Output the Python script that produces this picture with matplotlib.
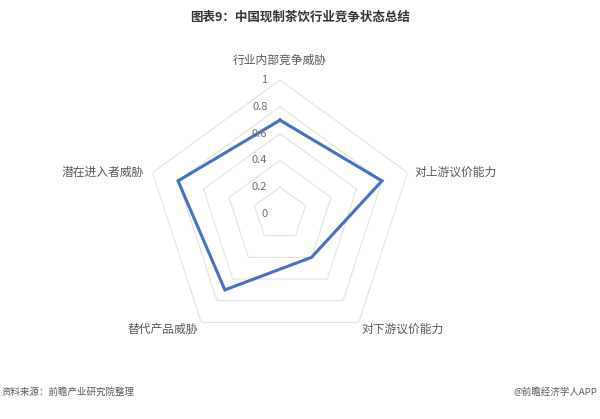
import numpy as np
import matplotlib.pyplot as plt

plt.rcParams['font.family'] = ['Noto Sans CJK SC', 'DejaVu Sans']

# data
categories = ['行业内部竞争威胁', '对上游议价能力', '对下游议价能力', '替代产品威胁', '潜在进入者威胁']
values = [0.7, 0.8, 0.4, 0.7, 0.8]
ring_levels = [0.2, 0.4, 0.6, 0.8, 1.0]
tick_labels = ['0', '0.2', '0.4', '0.6', '0.8', '1']
tick_values = [0, 0.2, 0.4, 0.6, 0.8, 1.0]

title = '图表9：中国现制茶饮行业竞争状态总结'
source = '资料来源：前瞻产业研究院整理'
credit = '@前瞻经济学人APP'

fig = plt.figure(figsize=(6, 4.19), dpi=100)
fig.patch.set_facecolor('white')

# polar axes centred at (280, 214) px, radius 134 px
cx, cy, r = 280 / 600, 1 - 214 / 419, 134
w, h = 2 * r / 600, 2 * r / 419
ax = fig.add_axes([cx - w / 2, cy - h / 2, w, h], projection='polar')
ax.set_theta_offset(np.pi / 2)
ax.set_theta_direction(-1)
ax.set_ylim(0, 1)
ax.grid(False)
ax.spines['polar'].set_visible(False)
ax.set_xticks([])
ax.set_yticks([])
ax.patch.set_alpha(0)

n = len(categories)
angles = np.linspace(0, 2 * np.pi, n, endpoint=False)
closed = np.concatenate([angles, angles[:1]])

# pentagon grid rings
for lv in ring_levels:
    ax.plot(closed, [lv] * (n + 1), color='#e2e2e2', lw=0.8, zorder=1)

# data line
vals = list(values) + [values[0]]
ax.plot(closed, vals, color='#4472c4', lw=2.2, solid_joinstyle='miter', zorder=3)

# radial tick labels, left of the top axis
for tv, tl in zip(tick_values, tick_labels):
    ax.annotate(tl, xy=(0, tv), xytext=(-9, 0), textcoords='offset points',
                ha='right', va='center', fontsize=8, color='#707070')

# category labels
label_pos = [
    (0, 1.0, (0, 14), 'center', 'center'),
    (angles[1], 1.0, (5, 0), 'left', 'center'),
    (angles[2], 1.0, (2, -5), 'left', 'center'),
    (angles[3], 1.0, (-2, -5), 'right', 'center'),
    (angles[4], 1.0, (-6, 0), 'right', 'center'),
]
for cat, (th, rr, off, ha, va) in zip(categories, label_pos):
    ax.annotate(cat, xy=(th, rr), xytext=off, textcoords='offset points',
                ha=ha, va=va, fontsize=8.5, color='#595959')

fig.text(0.5, 1 - 17 / 419, title, ha='center', va='center',
         fontsize=9, fontweight='bold', color='#333333')
fig.text(2 / 600, 1 - 392 / 419, source, ha='left', va='center',
         fontsize=6.8, color='#595959')
fig.text(597 / 600, 1 - 392 / 419, credit, ha='right', va='center',
         fontsize=6.8, color='#595959')

fig.savefig('out.png', dpi=100, facecolor='white')
